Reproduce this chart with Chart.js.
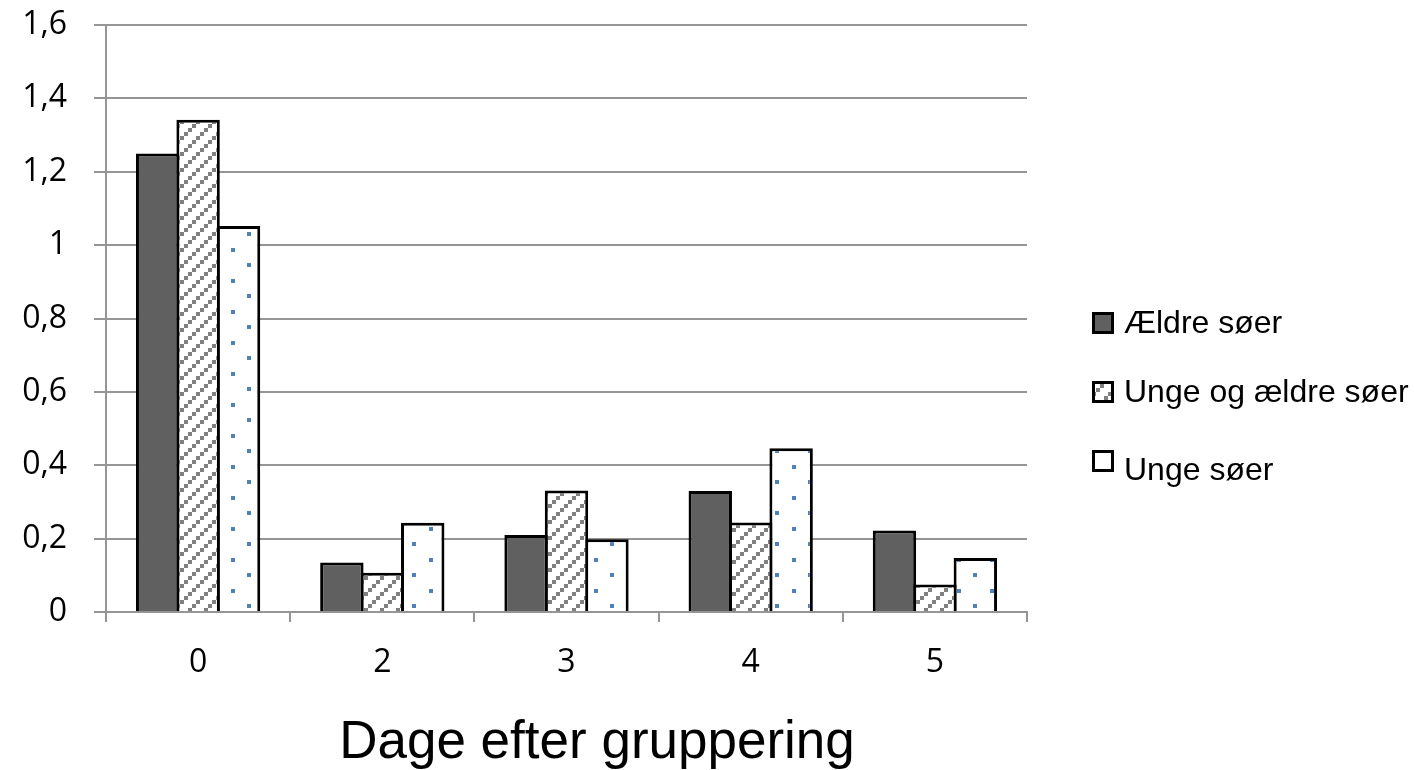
<!DOCTYPE html>
<html>
<head>
<meta charset="utf-8">
<script src="https://cdn.jsdelivr.net/npm/chart.js@4.4.0/dist/chart.umd.min.js"></script>
<style>
  html, body { margin: 0; padding: 0; background: #fff; }
  #wrap { width: 1414px; height: 770px; }
</style>
</head>
<body>
<div id="wrap"><canvas id="chart" width="1414" height="770"></canvas></div>
<script>
// ─── Data ────────────────────────────────────────────────
const categories   = ['0', '2', '3', '4', '5'];
const aeldreSoer   = [1.25, 0.135, 0.21, 0.33, 0.222];
const ungeOgAeldre = [1.342, 0.107, 0.331, 0.244, 0.075];
const ungeSoer     = [1.052, 0.243, 0.198, 0.446, 0.147];
const seriesNames  = ['Ældre søer', 'Unge og ældre søer', 'Unge søer'];
const yTicks       = [0, 0.2, 0.4, 0.6, 0.8, 1, 1.2, 1.4, 1.6];
const xTitle       = 'Dage efter gruppering';

// ─── Fill patterns ───────────────────────────────────────
function hatchPattern() {
  const c = document.createElement('canvas');
  c.width = 16; c.height = 16;
  const g = c.getContext('2d');
  g.fillStyle = '#fff';
  g.fillRect(0, 0, 16, 16);
  g.fillStyle = '#808080';
  for (let r = 0; r < 4; r++) g.fillRect(12 - 4 * r, 4 * r, 4, 4);
  return g.createPattern(c, 'repeat');
}

function dotPattern() {
  const c = document.createElement('canvas');
  c.width = 33; c.height = 31;
  const g = c.getContext('2d');
  g.fillStyle = '#fff';
  g.fillRect(0, 0, 33, 31);
  g.fillStyle = '#4f81bd';
  g.fillRect(0, 0, 4, 4);
  g.fillRect(16, 15, 4, 4);
  return g.createPattern(c, 'repeat');
}

const fills = ['#606060', hatchPattern(), dotPattern()];

// ─── Legend + axis title, drawn on the canvas ────────────
const sideLegend = {
  id: 'sideLegend',
  afterDraw(chart) {
    const ctx = chart.ctx;
    const boxTops   = [312, 381, 450];
    const baselines = [333, 402, 480];
    ctx.save();
    chart.data.datasets.forEach((ds, i) => {
      ctx.fillStyle = ds.backgroundColor;
      ctx.fillRect(1092, boxTops[i], 22, 22);
      ctx.strokeStyle = '#000';
      ctx.lineWidth = 3;
      ctx.strokeRect(1093.5, boxTops[i] + 1.5, 19, 19);
      ctx.fillStyle = '#000';
      ctx.font = '32px "Liberation Sans", Arial, sans-serif';
      ctx.textBaseline = 'alphabetic';
      ctx.textAlign = 'left';
      ctx.fillText(ds.label, 1124, baselines[i]);
    });
    // x axis title
    ctx.font = '53px "Liberation Sans", Arial, sans-serif';
    ctx.textAlign = 'center';
    ctx.fillText(xTitle, 597, 758);
    ctx.restore();
  },
};

const GRID = '#959595';

new Chart(document.getElementById('chart'), {
  type: 'bar',
  data: {
    labels: categories,
    datasets: [aeldreSoer, ungeOgAeldre, ungeSoer].map((vals, i) => ({
      label: seriesNames[i],
      data: vals,
      backgroundColor: fills[i],
      borderColor: '#000',
      borderWidth: 3,
      barPercentage: 1.074,
      categoryPercentage: 0.6585,
    })),
  },
  options: {
    responsive: false,
    animation: false,
    layout: { padding: { left: 0, right: 387, top: 25, bottom: 0 } },
    plugins: {
      legend: { display: false },
      tooltip: { enabled: false },
    },
    scales: {
      x: {
        afterFit: (s) => { s.height = 158; s.paddingLeft = 0; s.paddingRight = 0; },
        grid: {
          display: true,
          drawOnChartArea: false,
          drawTicks: true,
          tickLength: 10,
          color: GRID,
          lineWidth: 2,
        },
        border: { display: true, color: GRID, width: 2 },
        ticks: {
          color: '#000',
          padding: 22,
          font: { size: 32, family: '"Open Sans", sans-serif' },
        },
      },
      y: {
        min: 0,
        max: 1.6,
        afterBuildTicks: (axis) => { axis.ticks = yTicks.map(v => ({ value: v })); },
        afterFit: (s) => { s.width = 106; s.paddingTop = 0; s.paddingBottom = 0; },
        grid: {
          color: GRID,
          lineWidth: 2,
          drawTicks: true,
          tickLength: 12,
        },
        border: { display: true, color: GRID, width: 2 },
        ticks: {
          color: '#000',
          padding: 27,
          font: { size: 32, family: '"Open Sans", sans-serif' },
          callback: (v) => String(Math.round(v * 10) / 10).replace('.', ','),
        },
      },
    },
  },
  plugins: [sideLegend],
});
</script>
</body>
</html>
